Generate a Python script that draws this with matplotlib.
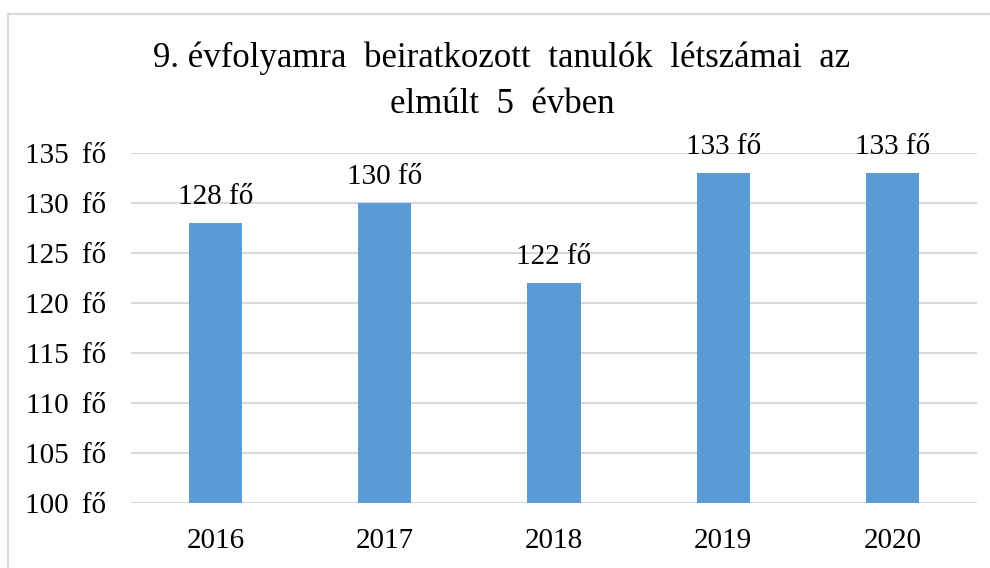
import matplotlib
matplotlib.use("Agg")
import matplotlib.pyplot as plt
from matplotlib.lines import Line2D

years = ["2016", "2017", "2018", "2019", "2020"]
students = [128, 130, 122, 133, 133]
yticks = [100, 105, 110, 115, 120, 125, 130, 135]
title_lines = ["9. évfolyamra  beiratkozott  tanulók  létszámai  az",
               "elmúlt  5  évben"]

plt.rcParams['font.family'] = ['Liberation Serif', 'DejaVu Serif']

fig = plt.figure(figsize=(9.9, 5.68), dpi=100)
ax = fig.add_axes([131/990, 1-503/568, (977-131)/990, (503-153)/568])

x = list(range(len(years)))
ax.bar(x, students, width=0.315, color="#5B9BD5", zorder=3)
ax.set_xlim(-0.5, len(years)-0.5)
ax.set_ylim(100, 135)
ax.set_yticks(yticks)
ax.set_yticklabels([f"{v} \u2009fő" for v in yticks])
ax.set_xticks(x)
ax.set_xticklabels(years)
ax.tick_params(axis='both', length=0, labelsize=21, colors="#000000")
ax.tick_params(axis='y', pad=18)
ax.tick_params(axis='x', pad=18)
ax.grid(axis='y', color="#D9D9D9", linewidth=1.5, zorder=0)
for s in ax.spines.values():
    s.set_visible(False)

for xi, v in zip(x, students):
    ax.annotate(f"{v} fő", (xi, v), xytext=(0, 13.7), textcoords="offset points",
                ha="center", va="baseline", fontsize=21)

for line, yb in zip(title_lines, [67, 113]):
    fig.text(502/990, 1-yb/568, line, ha="center", va="baseline", fontsize=25)

# chart border (extends beyond right/bottom of image)
fig.add_artist(Line2D([8/990, 8/990], [0, 1-14/568], transform=fig.transFigure,
                      color="#D9D9D9", linewidth=1.5))
fig.add_artist(Line2D([8/990, 1], [1-14/568, 1-14/568], transform=fig.transFigure,
                      color="#D9D9D9", linewidth=1.5))

fig.savefig("out.png", dpi=100)
